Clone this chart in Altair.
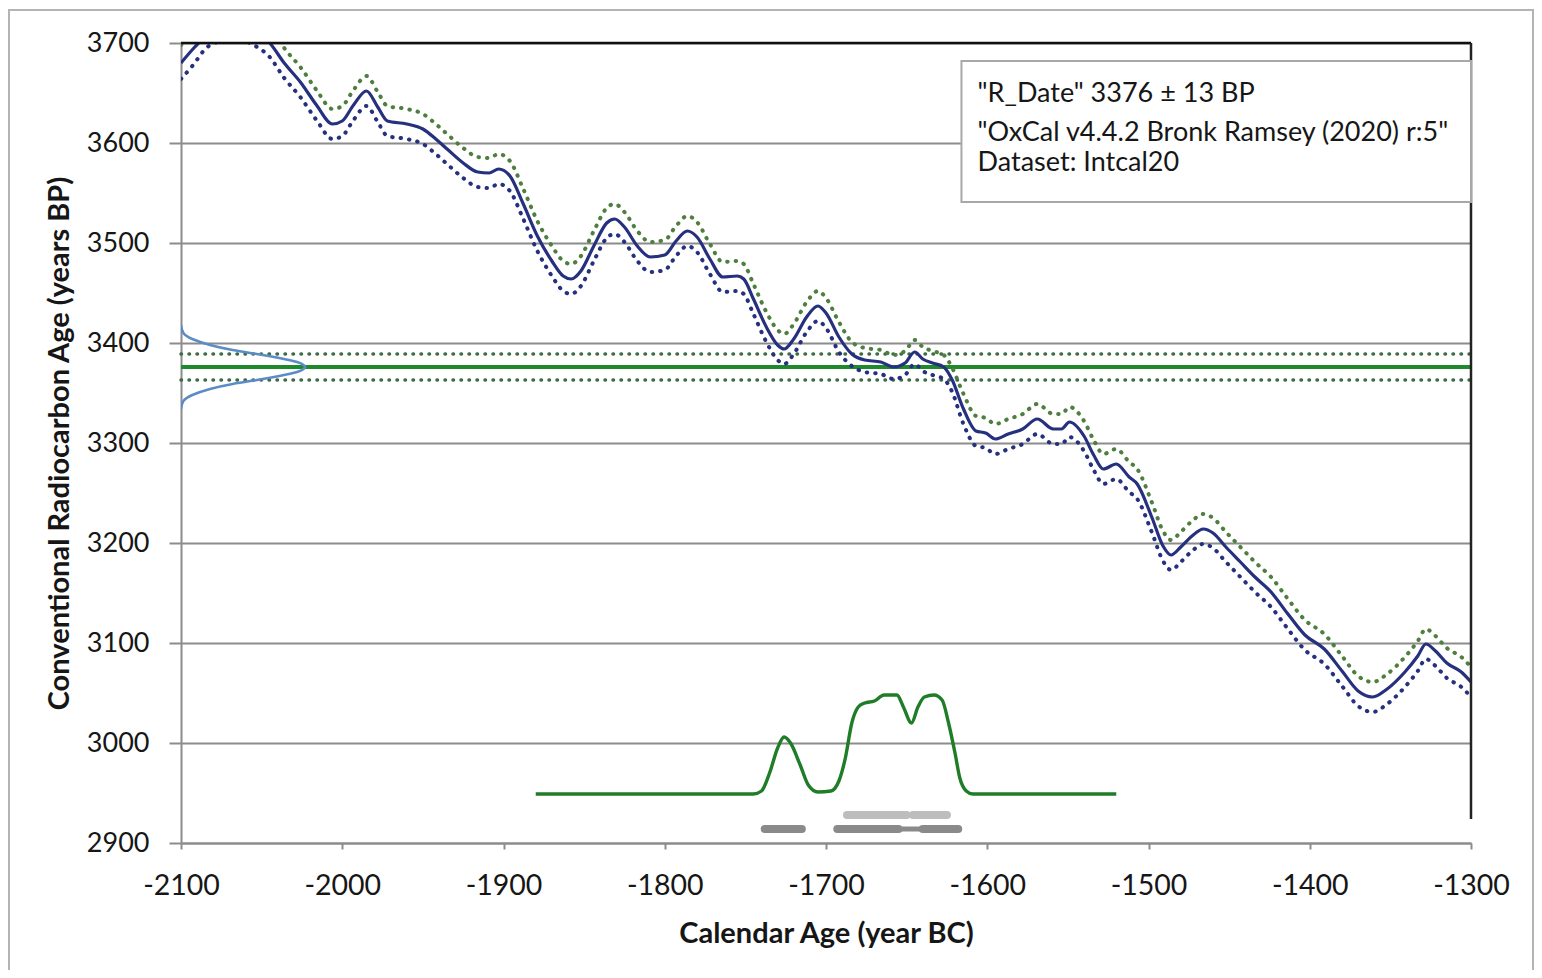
import altair as alt
import pandas as pd

# ---------------- data ----------------
years = [-2100, -2092, -2085, -2075, -2065, -2055, -2045, -2036, -2026, -2016,
         -2006, -2000, -1993, -1985, -1978, -1972, -1960, -1950, -1942, -1935,
         -1925, -1916, -1909, -1903, -1896, -1888, -1879, -1870, -1863, -1858,
         -1852, -1844, -1836, -1831, -1825, -1817, -1809, -1800, -1793, -1786,
         -1780, -1772, -1764, -1755, -1751, -1745, -1737, -1730, -1726, -1720,
         -1712, -1705, -1700, -1692, -1684, -1676, -1666, -1658, -1651, -1645,
         -1640, -1634, -1627, -1622, -1615, -1607, -1601, -1595, -1587, -1578,
         -1569, -1559, -1554, -1549, -1540, -1534, -1528, -1520, -1512, -1507,
         -1498, -1491, -1486, -1480, -1473, -1466, -1460, -1452, -1443, -1434,
         -1424, -1414, -1403, -1391, -1380, -1370, -1361, -1352, -1341, -1333,
         -1328, -1322, -1315, -1306, -1300]

curve_mid = [3680, 3695, 3706, 3716, 3718, 3712, 3700, 3680, 3661, 3638,
             3619, 3622, 3638, 3652, 3636, 3622, 3619, 3614, 3604, 3594,
             3580, 3571, 3570, 3574, 3567, 3540, 3507, 3482, 3467, 3464,
             3472, 3497, 3520, 3524, 3516, 3497, 3486, 3488, 3502, 3512,
             3506, 3484, 3466, 3467, 3464, 3444, 3416, 3398, 3394, 3404,
             3426, 3437, 3430, 3406, 3389, 3383, 3381, 3376, 3380, 3391,
             3384, 3380, 3376, 3364, 3335, 3312, 3310, 3304, 3309, 3314,
             3324, 3314, 3314, 3321, 3307, 3288, 3274, 3279, 3266, 3259,
             3226, 3197, 3188, 3196, 3207, 3214, 3210, 3196, 3181, 3166,
             3151, 3130, 3108, 3094, 3072, 3052, 3046, 3054, 3071, 3087,
             3099, 3092, 3080, 3071, 3061]

curve_upper = [3698, 3713, 3724, 3734, 3736, 3730, 3718, 3695, 3676, 3653,
               3634, 3637, 3653, 3667, 3651, 3637, 3634, 3629, 3619, 3609,
               3595, 3586, 3585, 3589, 3582, 3555, 3522, 3497, 3482, 3479,
               3487, 3512, 3535, 3539, 3531, 3512, 3501, 3503, 3517, 3527,
               3521, 3499, 3481, 3482, 3479, 3459, 3431, 3413, 3409, 3419,
               3441, 3452, 3445, 3421, 3401, 3395, 3393, 3388, 3392, 3403,
               3396, 3392, 3388, 3376, 3350, 3327, 3325, 3319, 3324, 3329,
               3339, 3329, 3329, 3336, 3322, 3303, 3289, 3294, 3281, 3274,
               3241, 3212, 3203, 3211, 3222, 3229, 3225, 3211, 3196, 3181,
               3166, 3145, 3123, 3109, 3087, 3067, 3061, 3069, 3086, 3102,
               3114, 3107, 3095, 3086, 3076]

curve_lower = [3664, 3679, 3694, 3702, 3704, 3698, 3686, 3665, 3646, 3623,
               3604, 3607, 3623, 3637, 3621, 3607, 3604, 3599, 3589, 3579,
               3565, 3556, 3555, 3559, 3552, 3525, 3492, 3467, 3452, 3449,
               3457, 3482, 3505, 3509, 3501, 3482, 3471, 3473, 3487, 3497,
               3491, 3469, 3451, 3452, 3449, 3429, 3401, 3383, 3379, 3389,
               3411, 3422, 3415, 3391, 3377, 3371, 3369, 3364, 3368, 3379,
               3372, 3368, 3364, 3352, 3320, 3297, 3295, 3289, 3294, 3299,
               3309, 3299, 3299, 3306, 3292, 3273, 3259, 3264, 3251, 3244,
               3211, 3182, 3173, 3181, 3192, 3199, 3195, 3181, 3166, 3151,
               3136, 3115, 3093, 3079, 3057, 3037, 3031, 3039, 3056, 3072,
               3084, 3077, 3065, 3056, 3046]

# measured radiocarbon date (gaussian drawn against the y axis)
r_date = 3376
r_err = 13
gauss_bp = [3418, 3410, 3404, 3398, 3393, 3389, 3385, 3381, 3378, 3376,
            3374, 3371, 3367, 3363, 3359, 3354, 3348, 3342, 3334]
gauss_year = [-2100, -2098.5, -2093, -2082, -2068, -2053, -2039, -2028, -2024, -2023,
              -2024, -2028, -2039, -2053, -2068, -2082, -2093, -2098.5, -2100]

# calibrated probability curve
pdf_year = [-1880, -1745, -1740, -1735, -1730, -1726, -1722, -1716, -1711, -1705,
            -1697, -1692, -1688, -1684, -1680, -1676, -1670, -1664, -1656, -1652,
            -1647, -1643, -1639, -1633, -1628, -1624, -1620, -1617, -1613, -1609,
            -1520]
pdf_val = [2949, 2949, 2952, 2970, 2995, 3006, 3000, 2978, 2958, 2951,
           2952, 2962, 2985, 3020, 3036, 3040, 3042, 3048, 3048, 3036,
           3020, 3036, 3046, 3048, 3043, 3020, 2990, 2965, 2952, 2949,
           2949]

# highest posterior density ranges
hpd68_start = [-1687, -1646]
hpd68_end = [-1650, -1625]
hpd95_start = [-1738, -1693, -1640]
hpd95_end = [-1715, -1655, -1618]
hpd95_thin_start = [-1660]
hpd95_thin_end = [-1640]

info_lines = ['"R_Date" 3376 \u00b1 13 BP',
              '"OxCal v4.4.2 Bronk Ramsey (2020) r:5"',
              'Dataset: Intcal20']

x_ticks = [-2100, -2000, -1900, -1800, -1700, -1600, -1500, -1400, -1300]
y_ticks = [2900, 3000, 3100, 3200, 3300, 3400, 3500, 3600, 3700]

# ---------------- styling ----------------
FONT = "Lato"
TXT = "#161616"
GRID = "#8c8c8c"
NAVY = "#25307f"
OLIVE = "#4f7f3f"
GREEN = "#1f8a2c"
DOTGREEN = "#3d6b45"

xscale = alt.Scale(domain=[-2100, -1300], nice=False, zero=False)
yscale = alt.Scale(domain=[2900, 3700], nice=False, zero=False)

xaxis = alt.Axis(values=x_ticks, title="Calendar Age (year BC)", labelExpr="'' + datum.value",
                 labelFont=FONT, labelFontSize=28.5, labelColor=TXT,
                 titleFont=FONT, titleFontSize=29, titleFontWeight="bold", titleColor=TXT,
                 domainColor=GRID, domainWidth=2, tickColor=GRID, tickWidth=2, tickSize=6,
                 labelPadding=22, titlePadding=20, grid=False, labelFlush=False)
yaxis = alt.Axis(values=y_ticks, title="Conventional Radiocarbon Age (years BP)",
                 labelExpr="'' + datum.value",
                 labelFont=FONT, labelFontSize=27, labelColor=TXT,
                 titleFont=FONT, titleFontSize=29, titleFontWeight="bold", titleColor=TXT,
                 domainColor=GRID, domainWidth=2, tickColor=GRID, tickWidth=2, tickSize=12,
                 labelPadding=20, titlePadding=12, grid=True, gridColor=GRID, gridWidth=2,
                 labelFlush=False)


def X(field):
    return alt.X(f"{field}:Q", scale=xscale, axis=xaxis)


def Y(field):
    return alt.Y(f"{field}:Q", scale=yscale, axis=yaxis)


curve_df = pd.DataFrame({"year": years, "mid": curve_mid, "upper": curve_upper, "lower": curve_lower})
gauss_df = pd.DataFrame({"year": gauss_year, "bp": gauss_bp, "i": list(range(len(gauss_bp)))})
pdf_df = pd.DataFrame({"year": pdf_year, "bp": pdf_val})
hlines_df = pd.DataFrame({"x": [-2100], "x2": [-1300], "y": [r_date],
                          "yu": [r_date + r_err], "yl": [r_date - r_err]})

# axis + grid carrier
base = alt.Chart(pd.DataFrame({"x": [-2100, -1300], "y": [2900, 3700]})).mark_point(opacity=0).encode(
    x=X("x"), y=Y("y"))

# frame around whole picture (decoration)
frame = alt.Chart(pd.DataFrame({"a": [0]})).mark_rect(
    fill="white", fillOpacity=0, stroke="#b4b4b4", strokeWidth=2).encode(
    x=alt.value(-172), x2=alt.value(1352), y=alt.value(-33), y2=alt.value(990))

hl_solid = alt.Chart(hlines_df).mark_rule(color=GREEN, strokeWidth=4).encode(
    x=X("x"), x2="x2:Q", y=Y("y"))
hl_up = alt.Chart(hlines_df).mark_rule(color=DOTGREEN, strokeWidth=3.5, strokeDash=[0.5, 7.5],
                                       strokeCap="round").encode(x=X("x"), x2="x2:Q", y=Y("yu"))
hl_lo = alt.Chart(hlines_df).mark_rule(color=DOTGREEN, strokeWidth=3.5, strokeDash=[0.5, 7.5],
                                       strokeCap="round").encode(x=X("x"), x2="x2:Q", y=Y("yl"))

gauss = alt.Chart(gauss_df).mark_line(color="#5b8cc6", strokeWidth=2.5, interpolate="natural",
                                      clip=True).encode(x=X("year"), y=Y("bp"), order="i:Q")

c_up = alt.Chart(curve_df).mark_line(color=OLIVE, strokeWidth=4, strokeDash=[0.5, 8],
                                     strokeCap="round", interpolate="monotone", clip=True).encode(
    x=X("year"), y=Y("upper"))
c_lo = alt.Chart(curve_df).mark_line(color=NAVY, strokeWidth=4, strokeDash=[0.5, 8],
                                     strokeCap="round", interpolate="monotone", clip=True).encode(
    x=X("year"), y=Y("lower"))
c_mid = alt.Chart(curve_df).mark_line(color=NAVY, strokeWidth=3.2, interpolate="monotone",
                                      clip=True).encode(x=X("year"), y=Y("mid"))

pdf = alt.Chart(pdf_df).mark_line(color="#1f7d28", strokeWidth=3.4, interpolate="monotone").encode(
    x=X("year"), y=Y("bp"))

h68 = alt.Chart(pd.DataFrame({"s": hpd68_start, "e": hpd68_end, "y": [2928] * len(hpd68_start)})).mark_rule(
    color="#bdbdbd", strokeWidth=8, strokeCap="round").encode(x=X("s"), x2="e:Q", y=Y("y"))
h95 = alt.Chart(pd.DataFrame({"s": hpd95_start, "e": hpd95_end, "y": [2914] * len(hpd95_start)})).mark_rule(
    color="#8a8a8a", strokeWidth=8, strokeCap="round").encode(x=X("s"), x2="e:Q", y=Y("y"))
h95t = alt.Chart(pd.DataFrame({"s": hpd95_thin_start, "e": hpd95_thin_end, "y": [2914]})).mark_rule(
    color="#8a8a8a", strokeWidth=5).encode(x=X("s"), x2="e:Q", y=Y("y"))

top_border = alt.Chart(pd.DataFrame({"x": [-2100], "x2": [-1300], "y": [3700]})).mark_rule(
    color="#111111", strokeWidth=2.5).encode(x=X("x"), x2="x2:Q", y=Y("y"))
right_border = alt.Chart(pd.DataFrame({"x": [-1300], "y": [2924], "y2": [3700]})).mark_rule(
    color="#222222", strokeWidth=2.5).encode(x=X("x"), y=Y("y"), y2="y2:Q")

box = alt.Chart(pd.DataFrame({"x": [-1616], "x2": [-1300], "y": [3682], "y2": [3541]})).mark_rect(
    fill="white", stroke="#a8a8a8", strokeWidth=2).encode(x=X("x"), x2="x2:Q", y=Y("y"), y2="y2:Q")
box_text = alt.Chart(pd.DataFrame({"t": info_lines, "x": [-1606] * 3, "y": [3649, 3610, 3580]})).mark_text(
    font=FONT, fontSize=27, color=TXT, align="left", baseline="middle").encode(
    x=X("x"), y=Y("y"), text="t:N")

chart = alt.layer(
    frame, base, hl_up, hl_lo, hl_solid, gauss, c_up, c_lo, c_mid, pdf, h68, h95t, h95,
    top_border, right_border, box, box_text
).properties(
    width=1290, height=800,
    autosize=alt.AutoSizeParams(type="none"),
    padding={"left": 173, "top": 35, "right": 63, "bottom": 127},
    background="white"
).configure_view(stroke=None)

chart.save("out.html", embed_options={"renderer": "svg", "actions": False})
